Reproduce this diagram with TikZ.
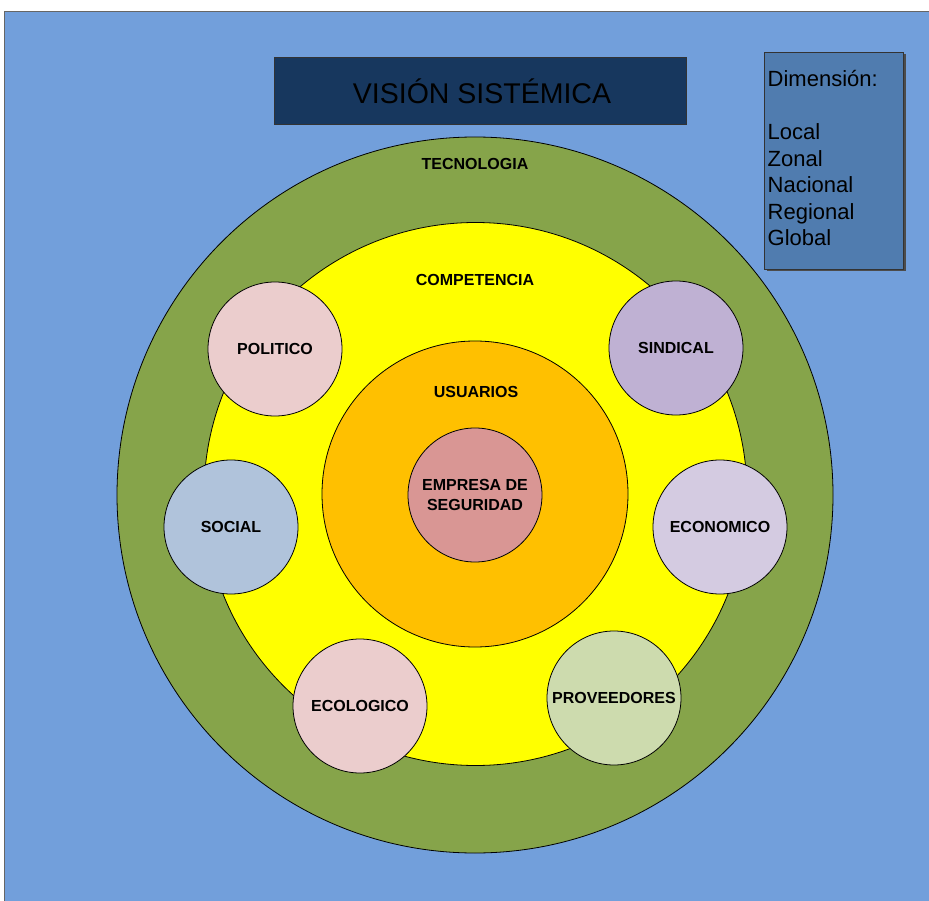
\documentclass[tikz,border=0pt]{standalone}
\usepackage{fontspec}
\setmainfont{Liberation Sans}
\begin{document}
\begin{tikzpicture}[x=1pt,y=-1pt,
  ring/.style={draw=black,line width=0.8pt,circle,inner sep=0pt},
  satellite/.style={draw=black,line width=0.8pt,circle,minimum size=134pt,inner sep=0pt,font=\bfseries\fontsize{16}{18}\selectfont},
  ringlabel/.style={font=\bfseries\fontsize{16}{18}\selectfont},
  listtext/.style={font=\fontsize{22}{26.5}\selectfont,align=left,anchor=north west,inner sep=0pt}]
\definecolor{bgblue}{RGB}{114,159,219}
\definecolor{olive}{RGB}{134,164,74}
\definecolor{ringyellow}{RGB}{255,255,0}
\definecolor{ringorange}{RGB}{255,192,0}
\definecolor{corepink}{RGB}{217,150,148}
\definecolor{rosepale}{RGB}{235,205,205}
\definecolor{lilac}{RGB}{191,177,211}
\definecolor{greyblue}{RGB}{176,195,219}
\definecolor{lavender}{RGB}{212,203,225}
\definecolor{sage}{RGB}{205,219,174}
\definecolor{navy}{RGB}{23,55,94}
\definecolor{steel}{RGB}{80,124,175}
\useasboundingbox (0,0) rectangle (929,901);
% page background
\fill[white] (0,0) rectangle (929,901);
\fill[bgblue] (4.5,11.5) rectangle (929,901);
\draw[gray!80!black,line width=0.8pt] (4.5,901) -- (4.5,11.5) -- (929,11.5);
% concentric rings
\node[ring,fill=olive,minimum size=716pt] (tec) at (475,495) {};
\node[ring,fill=ringyellow,minimum size=543pt] (comp) at (475.5,494) {};
\node[ring,fill=ringorange,minimum size=306pt] (usr) at (475,494) {};
\node[ring,fill=corepink,minimum size=134pt,font=\bfseries\fontsize{16}{20}\selectfont,align=center] (core) at (475,495) {EMPRESA DE\\SEGURIDAD};
\node[ringlabel] (tecl) at (475,164) {TECNOLOGIA};
\node[ringlabel] (compl) at (475,280) {COMPETENCIA};
\node[ringlabel] (usrl) at (476,392) {USUARIOS};
% surrounding factors
\node[satellite,fill=rosepale] (pol) at (275,349) {POLITICO};
\node[satellite,fill=lilac] (sin) at (676,348) {SINDICAL};
\node[satellite,fill=greyblue] (soc) at (231,527) {SOCIAL};
\node[satellite,fill=lavender] (eco) at (720,527) {ECONOMICO};
\node[satellite,fill=rosepale] (ecol) at (360,706) {ECOLOGICO};
\node[satellite,fill=sage] (prov) at (614,698) {PROVEEDORES};
% title
\draw[black!80,fill=navy,line width=0.8pt] (274,57) rectangle (686,124);
\node[font=\fontsize{28.5}{32}\selectfont] (title) at (482,91) {VISIÓN SISTÉMICA};
% scope box
\fill[black!70] (766.5,54.5) rectangle (905.5,271.5);
\draw[black!80,fill=steel,line width=0.8pt] (764,52) rectangle (903,269);
\node[listtext] (dim) at (767.5,70.5) {Dimensión:\\[26.5pt]Local\\Zonal\\Nacional\\Regional\\Global};
\end{tikzpicture}
\end{document}
